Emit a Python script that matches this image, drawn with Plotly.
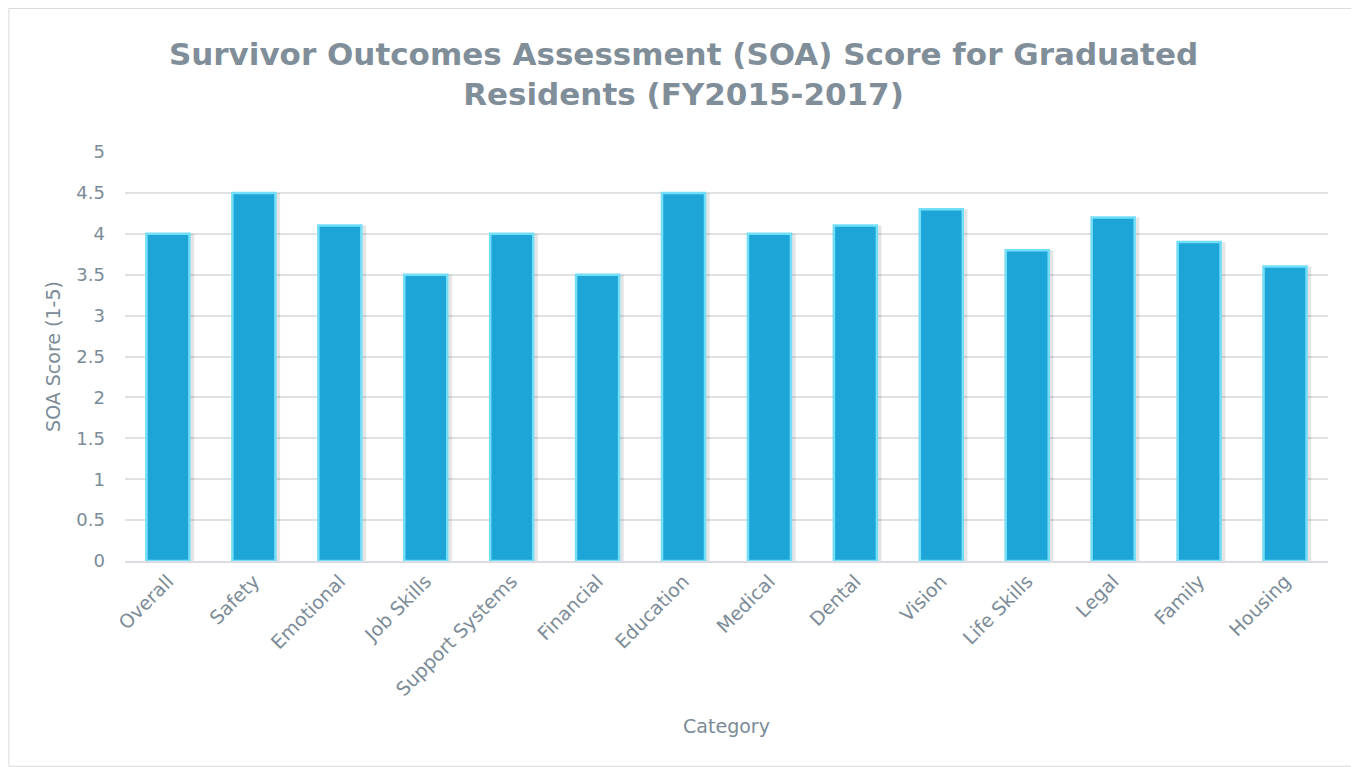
import plotly.graph_objects as go

categories = ["Overall", "Safety", "Emotional", "Job Skills", "Support Systems",
              "Financial", "Education", "Medical", "Dental", "Vision",
              "Life Skills", "Legal", "Family", "Housing"]
scores = [4.0, 4.5, 4.1, 3.5, 4.0, 3.5, 4.5, 4.0, 4.1, 4.3, 3.8, 4.2, 3.9, 3.6]
y_ticks = [0, 0.5, 1, 1.5, 2, 2.5, 3, 3.5, 4, 4.5, 5]

text_col = "#7b8b97"
font_family = "'DejaVu Sans', sans-serif"

fig = go.Figure()

# soft shadow behind bars
fig.add_trace(go.Bar(
    x=categories, y=scores,
    marker=dict(color="rgba(0,0,0,0.10)", line=dict(width=0)),
    width=0.57, offset=-0.265, hoverinfo="skip", showlegend=False,
))

# main bars
fig.add_trace(go.Bar(
    x=categories, y=scores,
    marker=dict(color="#1ca5d6", line=dict(color="#72def8", width=2.5)),
    width=0.5, offset=-0.25, showlegend=False,
))

# the page body adds an 8px offset, so the figure is 8px smaller
fig.update_layout(
    width=1351, height=759,
    margin=dict(l=117, r=31, t=144, b=206),
    paper_bgcolor="white", plot_bgcolor="white",
    barmode="overlay",
    font=dict(family=font_family, color=text_col, size=18),
    title=dict(
        text="<b>Survivor Outcomes Assessment (SOA) Score for Graduated<br>Residents (FY2015-2017)</b>",
        x=0.5, xanchor="center", y=0.925, yanchor="middle",
        font=dict(size=31, color="#7f8e99", family=font_family),
    ),
    xaxis=dict(
        tickangle=-45, showgrid=False, showline=True, linecolor="#d9dde1",
        linewidth=1.5, ticks="", tickfont=dict(size=19, color=text_col),
        title=dict(text="Category", font=dict(size=19, color=text_col), standoff=21),
    ),
    yaxis=dict(
        range=[0, 5], tickvals=y_ticks, ticktext=[str(t) for t in y_ticks],
        showgrid=True, gridcolor="#dfe2e5", gridwidth=1.5, zeroline=False,
        showline=False, ticks="", tickfont=dict(size=18, color=text_col),
        ticklabelstandoff=19,
        title=dict(text="SOA Score (1-5)", font=dict(size=19, color=text_col), standoff=10),
    ),
    shapes=[dict(
        type="rect", xref="paper", yref="paper",
        x0=-0.0965, x1=1.025, y0=-0.502, y1=1.351,
        line=dict(color="#d9d9d9", width=1),
    )],
)

fig.write_html("out.html")
